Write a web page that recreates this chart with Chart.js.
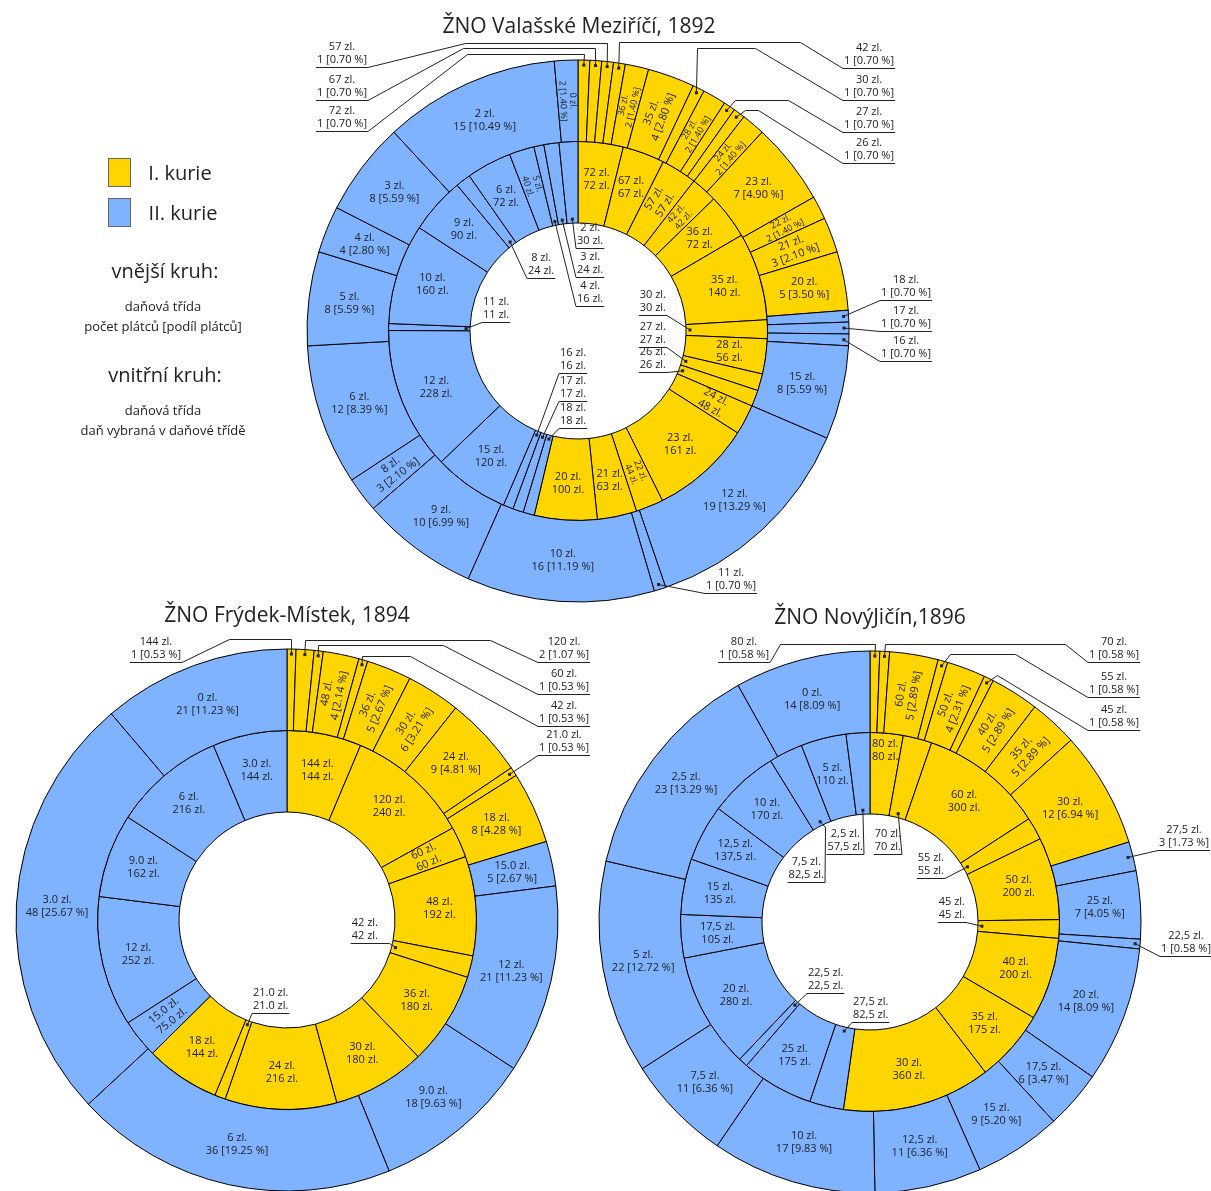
<!DOCTYPE html>
<html lang="cs">
<head>
<meta charset="UTF-8">
<title>ŽNO – daňové třídy</title>
<script src="https://cdn.jsdelivr.net/npm/chart.js"></script>
<style>
  body { margin: 0; background: #fff; font-family: "Open Sans", sans-serif; color: #222; }
  #page { position: relative; width: 1211px; height: 1191px; overflow: hidden; }
  canvas { position: absolute; left: 0; top: 0; }
  .t { position: absolute; white-space: nowrap; transform: translate(-50%, -50%); }
  .title { font-size: 21px; }
  .big { font-size: 20px; }
  .small { font-size: 13px; line-height: 20px; text-align: center; }
  .box { position: absolute; width: 21px; height: 27px; border: 1px solid #666; }
</style>
</head>
<body>
<div id="page">
  <canvas id="vm" width="1211" height="1191"></canvas>
  <canvas id="fm" width="1211" height="1191"></canvas>
  <canvas id="nj" width="1211" height="1191"></canvas>

  <div class="t title" style="left:579px; top:25px;">ŽNO Valašské Meziříčí, 1892</div>
  <div class="t title" style="left:287px; top:614px;">ŽNO Frýdek-Místek, 1894</div>
  <div class="t title" style="left:870px; top:616px;">ŽNO NovýJičín,1896</div>

  <div class="box" style="left:108px; top:158px; background:#FFD500;"></div>
  <div class="t big" style="left:180px; top:172px;">I. kurie</div>
  <div class="box" style="left:108px; top:198px; background:#80B3FF;"></div>
  <div class="t big" style="left:183px; top:212px;">II. kurie</div>

  <div class="t big" style="left:165px; top:270px;">vnější kruh:</div>
  <div class="t small" style="left:163px; top:316px;">daňová třída<br>počet plátců [podíl plátců]</div>
  <div class="t big" style="left:165px; top:374px;">vnitřní kruh:</div>
  <div class="t small" style="left:163px; top:420px;">daňová třída<br>daň vybraná v daňové třídě</div>
</div>

<script>
// ŽNO Valašské Meziříčí, 1892 (first 15 classes = I. kurie)
const vmClasses = ['72','67','57','42','36','35','30','28','27','26','24','23','22','21','20',
                   '18','17','16','15','12','11','10','9','8','6','5','4','3','2','0'];
const vmPayers = [1,1,1,1,2,4,1,2,1,1,2,7,2,3,5, 1,1,1,8,19,1,16,10,3,12,8,4,8,15,2];
const vmTax = [72,67,57,42,72,140,30,56,27,26,48,161,44,63,100, 18,17,16,120,228,11,160,90,24,72,40,16,24,30,0];
const vmTaxText = vmTax.map(String);
const vmKurieI = 15;

// ŽNO Frýdek-Místek, 1894 (first 10 classes = I. kurie)
const fmClasses = ['144','120','60','48','42','36','30','24','21.0','18','15.0','12','9.0','6','3.0','0'];
const fmPayers = [1,2,1,4,1,5,6,9,1,8, 5,21,18,36,48,21];
const fmTax = [144,240,60,192,42,180,180,216,21,144, 75,252,162,216,144,0];
const fmTaxText = ['144','240','60','192','42','180','180','216','21.0','144','75.0','252','162','216','144','0'];
const fmKurieI = 10;

// ŽNO NovýJičín, 1896 (first 9 classes = I. kurie)
const njClasses = ['80','70','60','55','50','45','40','35','30',
                   '27,5','25','22,5','20','17,5','15','12,5','10','7,5','5','2,5','0'];
const njPayers = [1,1,5,1,4,1,5,5,12, 3,7,1,14,6,9,11,17,11,22,23,14];
const njTax = [80,70,300,55,200,45,200,175,360, 82.5,175,22.5,280,105,135,137.5,170,82.5,110,57.5,0];
const njTaxText = njTax.map(v => String(v).replace('.', ','));
const njKurieI = 9;

const YELLOW = '#FFD500';
const BLUE = '#80B3FF';
const INK = '#222';
const FONT = '"Open Sans", sans-serif';

// label placement: rotated / small labels, leader-line labels (a = underline end, dir = side of text, k = knees)
const vmLayout = {
  rotOuter: [4,5,7,10,12,13,23,29], smallOuter: [4,7,10,12,29],
  rotInner: [2,3,10,12,25], smallInner: [3,12,25],
  ext: [
    {ring:0, i:0, a:[368,131], dir:-1, k:[[467,54],[584,54]]},
    {ring:0, i:1, a:[368,100], dir:-1, k:[[463,48],[595,48]]},
    {ring:0, i:2, a:[368,67], dir:-1, k:[[465,43],[607,43]]},
    {ring:0, i:3, a:[843,68], dir:1, k:[[800,42],[619,42]]},
    {ring:0, i:6, a:[843,100], dir:1, k:[[755,48],[697,48]]},
    {ring:0, i:8, a:[843,132], dir:1, k:[[788,100],[735,100]]},
    {ring:0, i:9, a:[843,163], dir:1, k:[[758,110],[745,110]]},
    {ring:0, i:15, a:[880,300], dir:1},
    {ring:0, i:16, a:[880,331], dir:1},
    {ring:0, i:17, a:[880,361], dir:1},
    {ring:0, i:20, a:[705,593], dir:1},
    {ring:1, i:6, a:[667,315], dir:-1},
    {ring:1, i:8, a:[667,347], dir:-1},
    {ring:1, i:9, a:[667,372], dir:-1},
    {ring:1, i:15, a:[559,428], dir:1},
    {ring:1, i:16, a:[559,401], dir:1},
    {ring:1, i:17, a:[559,373], dir:1},
    {ring:1, i:20, a:[482,322], dir:1},
    {ring:1, i:23, a:[527,278], dir:1},
    {ring:1, i:26, a:[576,306], dir:1},
    {ring:1, i:27, a:[576,277], dir:1},
    {ring:1, i:28, a:[576,248], dir:1}
  ],
  radius: {}
};

const fmLayout = {
  rotOuter: [3,5,6], smallOuter: [],
  rotInner: [2,10], smallInner: [],
  ext: [
    {ring:0, i:0, a:[182,662], dir:-1, k:[[229,639],[291,639]]},
    {ring:0, i:1, a:[538,662], dir:1, k:[[490,640],[305,640]]},
    {ring:0, i:2, a:[538,694], dir:1, k:[[443,645],[318,645]]},
    {ring:0, i:4, a:[538,726], dir:1, k:[[410,656],[362,656]]},
    {ring:0, i:8, a:[538,755], dir:1},
    {ring:1, i:4, a:[379,943], dir:-1, k:[[389,943]]},
    {ring:1, i:8, a:[252,1013], dir:1}
  ],
  radius: {}
};

const njLayout = {
  rotOuter: [2,4,6,7], smallOuter: [],
  rotInner: [], smallInner: [],
  ext: [
    {ring:0, i:0, a:[770,662], dir:-1, k:[[780,644],[875,644]]},
    {ring:0, i:1, a:[1088,662], dir:1, k:[[1065,644],[885,644]]},
    {ring:0, i:3, a:[1088,697], dir:1, k:[[1015,654],[950,654]]},
    {ring:0, i:5, a:[1088,730], dir:1, k:[[997,675]]},
    {ring:0, i:9, a:[1158,850], dir:1},
    {ring:0, i:11, a:[1160,956], dir:1},
    {ring:1, i:1, a:[902,854], dir:-1},
    {ring:1, i:19, a:[864,854], dir:-1},
    {ring:1, i:17, a:[825,882], dir:-1, k:[[825,827]]},
    {ring:1, i:3, a:[945,878], dir:-1},
    {ring:1, i:5, a:[966,922], dir:-1},
    {ring:1, i:9, a:[852,1022], dir:1},
    {ring:1, i:11, a:[807,993], dir:1}
  ],
  radius: {'1:0': 172}
};

// draws labels inside the rings and labels with leader lines outside
function ringLabels(lay, textFor) {
  return {
    id: 'ringLabels',
    afterDatasetsDraw(chart) {
      const ctx = chart.ctx;
      ctx.save();
      ctx.fillStyle = INK;
      ctx.strokeStyle = INK;
      ctx.lineWidth = 1;
      ctx.textAlign = 'center';
      ctx.textBaseline = 'middle';
      chart.data.datasets.forEach((ds, ring) => {
        chart.getDatasetMeta(ring).data.forEach((arc, i) => {
          if (!ds.data[i]) return;
          const p = arc.getProps(['x', 'y', 'startAngle', 'endAngle', 'innerRadius', 'outerRadius']);
          const mid = (p.startAngle + p.endAngle) / 2;
          const lines = textFor(ring, i);
          const ext = lay.ext.find(e => e.ring === ring && e.i === i);
          if (ext) {
            const rd = ring === 0 ? p.outerRadius - 5 : p.innerRadius + 4;
            const dx = p.x + rd * Math.cos(mid), dy = p.y + rd * Math.sin(mid);
            ctx.font = '11px ' + FONT;
            const w = Math.max(...lines.map(t => ctx.measureText(t).width)) + 2;
            const [ax, ay] = ext.a;
            const bx = ax + ext.dir * w;
            ctx.beginPath();
            ctx.moveTo(bx, ay + 0.5);
            ctx.lineTo(ax, ay + 0.5);
            (ext.k || []).forEach(([x, y]) => ctx.lineTo(x + 0.5, y + 0.5));
            ctx.lineTo(dx, dy);
            ctx.stroke();
            ctx.fillRect(dx - 1.5, dy - 1.5, 3, 3);
            const tx = (ax + bx) / 2;
            ctx.fillText(lines[0], tx, ay - 20);
            ctx.fillText(lines[1], tx, ay - 7);
            return;
          }
          const rot = (ring === 0 ? lay.rotOuter : lay.rotInner).includes(i);
          const small = (ring === 0 ? lay.smallOuter : lay.smallInner).includes(i);
          const over = lay.radius[ring + ':' + i];
          const rr = over || (ring === 0
            ? (p.innerRadius + p.outerRadius) / 2
            : p.innerRadius + 0.55 * (p.outerRadius - p.innerRadius));
          ctx.save();
          ctx.translate(p.x + rr * Math.cos(mid), p.y + rr * Math.sin(mid));
          if (rot) {
            let a = mid;
            if (Math.cos(a) < 0) a += Math.PI;
            ctx.rotate(a);
          }
          const fs = small ? 9 : 11, lh = small ? 10 : 13;
          ctx.font = fs + 'px ' + FONT;
          ctx.fillText(lines[0], 0, -lh / 2);
          ctx.fillText(lines[1], 0, lh / 2);
          ctx.restore();
        });
      });
      ctx.restore();
    }
  };
}

function makeChart(id, cx, cy, classes, payers, tax, taxText, kurieI, layout) {
  const total = payers.reduce((s, v) => s + v, 0);
  const colors = classes.map((c, i) => i < kurieI ? YELLOW : BLUE);
  const textFor = (ring, i) => ring === 0
    ? [classes[i] + ' zl.', payers[i] + ' [' + (payers[i] / total * 100).toFixed(2) + ' %]']
    : [classes[i] + ' zl.', taxText[i] + ' zl.'];
  return new Chart(document.getElementById(id), {
    type: 'doughnut',
    data: {
      labels: classes,
      datasets: [
        { data: payers, backgroundColor: colors, borderColor: '#000', borderWidth: 1, clip: false },
        { data: tax, backgroundColor: colors, borderColor: '#000', borderWidth: 1, clip: false }
      ]
    },
    options: {
      responsive: false,
      animation: false,
      devicePixelRatio: 1,
      events: [],
      radius: 271,
      cutout: '39.85%',
      hoverOffset: 0,
      layout: { padding: { left: cx - 100, right: 1211 - cx - 100, top: cy - 100, bottom: 1191 - cy - 100 } },
      plugins: {
        legend: { display: false },
        tooltip: { enabled: false }
      }
    },
    plugins: [ringLabels(layout, textFor)]
  });
}

makeChart('vm', 578, 331, vmClasses, vmPayers, vmTax, vmTaxText, vmKurieI, vmLayout);
makeChart('fm', 287, 920, fmClasses, fmPayers, fmTax, fmTaxText, fmKurieI, fmLayout);
makeChart('nj', 870, 922, njClasses, njPayers, njTax, njTaxText, njKurieI, njLayout);
</script>
</body>
</html>
